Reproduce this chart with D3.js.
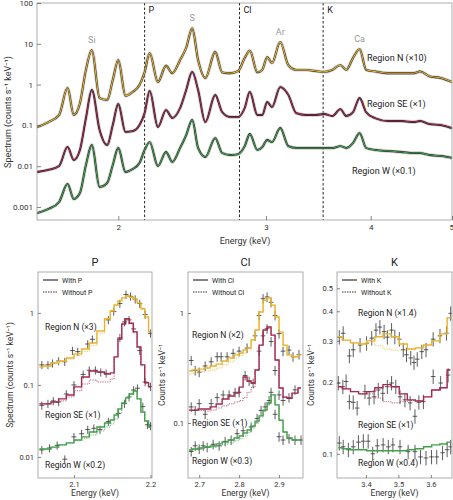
<!DOCTYPE html>
<html>
<head>
<meta charset="utf-8">
<script src="https://cdn.jsdelivr.net/npm/d3@7"></script>
<style>
body { margin: 0; background: #fff; }
svg { font-family: Roboto, "Noto Sans", sans-serif; }
</style>
</head>
<body>
<svg id="chart" width="453" height="500"></svg>
<script>
// ---------- top panel: broad-band spectra ----------
var energy = [1.60,1.65,1.70,1.74,1.77,1.80,1.83,1.86,1.90,1.94,1.97,2.00,2.04,2.08,2.12,2.15,2.18,2.23,2.28,2.32,2.37,2.41,2.45,2.49,2.54,2.61,2.66,2.72,2.78,2.83,2.87,2.93,2.97,3.01,3.05,3.12,3.19,3.26,3.35,3.44,3.52,3.60,3.68,3.74,3.81,3.88,3.95,4.05,4.20,4.35,4.50,4.58,4.70,4.85,5.00];
var specN = [0.091,0.12,0.18,0.83,0.18,0.35,2.3,7.0,0.47,0.42,1.3,4.0,0.53,0.66,0.98,2.0,5.9,1.16,2.9,1.9,4.0,8.0,24,4.0,1.45,6.3,2.0,1.9,2.15,4.5,6.8,2.0,2.3,4.7,3.4,11,3.0,2.3,2.3,2.15,2.05,2.3,3.0,2.3,4.5,7.4,2.3,2.1,1.9,1.9,1.9,2.1,1.6,1.45,1.16];
var specSE = [0.0072,0.0081,0.0101,0.0296,0.0142,0.025,0.15,0.74,0.077,0.033,0.102,0.335,0.069,0.072,0.102,0.20,0.70,0.091,0.238,0.152,0.267,0.74,2.04,0.74,0.121,0.556,0.213,0.161,0.161,0.267,0.66,0.18,0.18,0.375,0.282,0.87,0.56,0.20,0.18,0.18,0.19,0.17,0.25,0.17,0.21,0.47,0.21,0.15,0.128,0.128,0.121,0.128,0.108,0.102,0.086];
var specW = [0.00071,0.00089,0.00133,0.00367,0.00157,0.0022,0.0107,0.0331,0.00309,0.00388,0.0107,0.0279,0.0072,0.0085,0.012,0.025,0.039,0.0101,0.0223,0.0127,0.028,0.058,0.136,0.028,0.0168,0.049,0.021,0.0188,0.0198,0.031,0.0616,0.025,0.0295,0.0439,0.039,0.0864,0.031,0.028,0.028,0.028,0.028,0.028,0.031,0.028,0.037,0.065,0.028,0.025,0.0235,0.0223,0.021,0.021,0.0188,0.0178,0.0159];
var topXTicks = [2, 3, 4, 5];
var topYTicks = [100, 10, 1, 0.1, 0.01, 0.001];
var edgeE = [2.15, 2.79, 3.51];
var edgeNames = ["P", "Cl", "K"];
var lineE = [1.86, 2.45, 3.12, 3.88];
var lineNames = ["Si", "S", "Ar", "Ca"];
var topRegionNames = ["Region N (×10)", "Region SE (×1)", "Region W (×0.1)"];

// ---------- P panel ----------
var pEnergy = [2.055,2.065,2.075,2.085,2.095,2.105,2.115,2.125,2.135,2.145,2.150,2.155,2.160,2.165,2.170,2.175,2.180,2.185,2.190,2.195,2.200];
var pModelN = [0.178,0.183,0.202,0.215,0.237,0.27,0.316,0.383,0.56,0.83,1.07,1.29,1.47,1.62,1.72,1.65,1.56,1.38,1.14,0.88,0.545];
var pNoLineN = [0.178,0.183,0.202,0.212,0.228,0.255,0.29,0.35,0.52,0.80,1.05,1.29,1.47,1.62,1.72,1.65,1.56,1.38,1.14,0.88,0.545];
var pModelSE = [0.0545,0.0545,0.058,0.064,0.0726,0.094,0.129,0.156,0.151,0.142,0.147,0.245,0.435,0.70,0.83,0.72,0.545,0.337,0.19,0.107,0.094];
var pNoLineSE = [0.0545,0.0545,0.058,0.060,0.068,0.083,0.103,0.117,0.11,0.11,0.121,0.245,0.435,0.70,0.83,0.72,0.545,0.337,0.19,0.107,0.094];
var pModelW = [0.0129,0.0129,0.0137,0.0147,0.0157,0.0172,0.019,0.0222,0.0261,0.0296,0.0326,0.0383,0.0464,0.0562,0.066,0.075,0.0825,0.064,0.042,0.0316,0.0261];
var pNoLineW = [0.0129,0.0129,0.0137,0.0147,0.0155,0.0168,0.0182,0.0202,0.023,0.026,0.0288,0.0337,0.041,0.0562,0.066,0.075,0.0825,0.064,0.042,0.0316,0.0261];
var pObsEN = [2.058,2.066,2.072,2.080,2.088,2.098,2.105,2.118,2.124,2.145,2.152,2.160,2.168,2.174,2.180,2.186,2.193,2.200];
var pObsN = [0.19,0.19,0.20,0.215,0.21,0.30,0.29,0.37,0.43,0.80,1.05,1.35,1.8,1.7,1.55,1.35,0.95,0.52];
var pObsESE = [2.058,2.066,2.073,2.080,2.090,2.100,2.112,2.120,2.128,2.135,2.142,2.160,2.166,2.172,2.178,2.186,2.193,2.200];
var pObsSE = [0.052,0.055,0.060,0.058,0.075,0.10,0.14,0.16,0.16,0.15,0.145,0.45,0.75,0.80,0.6,0.30,0.11,0.095];
var pObsEW = [2.058,2.068,2.078,2.088,2.100,2.110,2.118,2.126,2.134,2.145,2.158,2.166,2.172,2.178,2.183,2.190,2.196,2.200];
var pObsW = [0.0125,0.0133,0.0145,0.0093,0.019,0.021,0.024,0.025,0.024,0.031,0.040,0.055,0.068,0.085,0.090,0.050,0.028,0.027];

// ---------- Cl panel ----------
var clEnergy = [2.675,2.69,2.705,2.72,2.735,2.75,2.765,2.78,2.795,2.805,2.815,2.825,2.835,2.845,2.855,2.865,2.875,2.885,2.895,2.905,2.915,2.925,2.94,2.955];
var clModelN = [0.297,0.303,0.309,0.316,0.33,0.343,0.366,0.39,0.416,0.433,0.461,0.48,0.568,0.70,1.02,1.31,1.37,1.18,0.92,0.67,0.51,0.416,0.40,0.416];
var clNoLineN = [0.279,0.285,0.291,0.297,0.303,0.316,0.337,0.359,0.39,0.407,0.433,0.461,0.568,0.70,1.02,1.31,1.37,1.18,0.92,0.67,0.51,0.416,0.40,0.416];
var clModelSE = [0.131,0.131,0.134,0.134,0.14,0.149,0.165,0.176,0.187,0.212,0.262,0.241,0.231,0.303,0.51,0.70,0.746,0.63,0.374,0.208,0.172,0.168,0.187,0.208];
var clNoLineSE = [0.131,0.131,0.130,0.128,0.131,0.137,0.143,0.149,0.155,0.16,0.17,0.19,0.21,0.303,0.51,0.70,0.746,0.63,0.374,0.208,0.172,0.168,0.187,0.208];
var clModelW = [0.0568,0.058,0.0593,0.0605,0.0618,0.0645,0.0672,0.07,0.073,0.0762,0.081,0.0864,0.094,0.104,0.116,0.131,0.152,0.18,0.146,0.106,0.0828,0.073,0.07,0.07];
var clNoLineW = [0.0568,0.058,0.0593,0.060,0.060,0.062,0.064,0.066,0.069,0.072,0.076,0.082,0.090,0.100,0.113,0.131,0.152,0.18,0.146,0.106,0.0828,0.073,0.07,0.07];
var clObsEN = [2.68,2.69,2.70,2.715,2.73,2.745,2.755,2.77,2.785,2.80,2.82,2.84,2.85,2.86,2.87,2.88,2.89,2.90,2.91,2.925,2.935,2.95];
var clObsN = [0.37,0.30,0.29,0.33,0.36,0.40,0.40,0.40,0.43,0.45,0.48,0.62,0.95,1.35,1.40,1.25,0.95,0.65,0.45,0.46,0.40,0.42];
var clObsESE = [2.68,2.69,2.70,2.715,2.73,2.745,2.76,2.775,2.79,2.80,2.815,2.825,2.835,2.85,2.86,2.87,2.88,2.89,2.90,2.91,2.925,2.94];
var clObsSE = [0.14,0.13,0.15,0.12,0.15,0.17,0.18,0.18,0.19,0.19,0.27,0.24,0.23,0.45,0.62,0.72,0.55,0.30,0.18,0.16,0.17,0.20];
var clObsEW = [2.68,2.69,2.70,2.71,2.72,2.735,2.75,2.765,2.78,2.795,2.81,2.83,2.845,2.855,2.865,2.875,2.88,2.89,2.90,2.91,2.925,2.94,2.955];
var clObsW = [0.055,0.062,0.058,0.062,0.060,0.064,0.062,0.068,0.070,0.080,0.085,0.092,0.11,0.13,0.14,0.16,0.19,0.12,0.075,0.07,0.072,0.070,0.070];

// ---------- K panel ----------
var kEnergy = [3.315,3.34,3.365,3.39,3.415,3.44,3.465,3.49,3.515,3.54,3.565,3.59,3.615,3.64,3.66];
var kModelN = [0.312,0.302,0.294,0.291,0.300,0.312,0.321,0.312,0.291,0.277,0.280,0.288,0.300,0.321,0.375];
var kNoLineN = [0.312,0.302,0.294,0.291,0.294,0.286,0.277,0.274,0.274,0.277,0.280,0.288,0.300,0.321,0.375];
var kModelSE = [0.192,0.188,0.183,0.179,0.183,0.190,0.196,0.192,0.179,0.169,0.167,0.174,0.186,0.190,0.226];
var kNoLineSE = [0.192,0.188,0.183,0.179,0.179,0.172,0.166,0.164,0.166,0.168,0.167,0.174,0.186,0.190,0.226];
var kModelW = [0.106,0.105,0.104,0.104,0.103,0.103,0.103,0.103,0.103,0.104,0.105,0.107,0.109,0.110,0.112];
var kObsEN = [3.318,3.330,3.349,3.361,3.382,3.402,3.418,3.431,3.443,3.456,3.466,3.479,3.489,3.503,3.515,3.525,3.538,3.548,3.558,3.572,3.585,3.607,3.628,3.648,3.661];
var kObsN = [0.311,0.323,0.259,0.275,0.288,0.293,0.308,0.333,0.343,0.328,0.311,0.333,0.312,0.305,0.275,0.262,0.254,0.243,0.251,0.270,0.275,0.305,0.315,0.323,0.392];
var kObsESE = [3.315,3.329,3.339,3.349,3.361,3.373,3.397,3.410,3.425,3.438,3.452,3.466,3.479,3.492,3.505,3.520,3.536,3.551,3.563,3.577,3.607,3.630,3.653];
var kObsSE = [0.199,0.192,0.202,0.166,0.165,0.156,0.183,0.172,0.174,0.186,0.180,0.192,0.199,0.192,0.174,0.169,0.164,0.144,0.165,0.166,0.212,0.199,0.215];
var kObsEW = [3.318,3.330,3.346,3.361,3.377,3.392,3.407,3.421,3.435,3.453,3.469,3.483,3.505,3.530,3.551,3.568,3.585,3.602,3.618,3.636,3.650,3.661];
var kObsW = [0.111,0.107,0.104,0.107,0.112,0.113,0.113,0.100,0.108,0.109,0.107,0.109,0.107,0.102,0.102,0.097,0.096,0.097,0.097,0.101,0.104,0.107];

var colN = "#e8b430", colSE = "#a52a50", colW = "#43a04b";
var frameCol = "#9a9a9a", textCol = "#333";

var svg = d3.select("#chart");
var defs = svg.append("defs");

function styleAxis(g, size) {
    g.select(".domain").remove();
    g.selectAll(".tick line").attr("stroke", "#555").attr("stroke-width", 0.7);
    g.selectAll(".tick text").attr("fill", textCol).attr("font-size", size).attr("font-family", "Roboto, sans-serif");
}

// ===== top panel =====
var tx0 = 37, tx1 = 452, ty0 = 3, ty1 = 220;
var xTop = d3.scaleLog().domain([1.6, 5]).range([tx0, tx1]);
var yTop = d3.scaleLog().domain([0.00048, 100]).range([ty1, ty0]);

defs.append("clipPath").attr("id", "clipTop").append("rect")
    .attr("x", tx0).attr("y", ty0).attr("width", tx1 - tx0).attr("height", ty1 - ty0);

var topG = svg.append("g");
var topPlot = topG.append("g").attr("clip-path", "url(#clipTop)");

// dashed edge markers
edgeE.forEach(function(e, i) {
    topPlot.append("line")
        .attr("x1", xTop(e)).attr("x2", xTop(e)).attr("y1", ty0).attr("y2", ty1)
        .attr("stroke", "#222").attr("stroke-width", 1).attr("stroke-dasharray", "2.5,2");
    topG.append("text").attr("x", xTop(e) + 4).attr("y", ty0 + 10)
        .attr("font-size", 9).attr("fill", "#222").text(edgeNames[i]);
});

var topLine = d3.line()
    .x(function(d, i) { return xTop(energy[i]); })
    .y(function(d) { return yTop(d); })
    .curve(d3.curveMonotoneX);

[[specN, colN], [specSE, colSE], [specW, colW]].forEach(function(s) {
    topPlot.append("path").attr("d", topLine(s[0])).attr("fill", "none")
        .attr("stroke", "#9a9a9a").attr("stroke-width", 3.4).attr("stroke-opacity", 0.55);
    topPlot.append("path").attr("d", topLine(s[0])).attr("fill", "none")
        .attr("stroke", "#151515").attr("stroke-width", 1.8);
    topPlot.append("path").attr("d", topLine(s[0])).attr("fill", "none")
        .attr("stroke", s[1]).attr("stroke-width", 1.1);
});

// line labels above the N peaks
lineE.forEach(function(e, i) {
    var k = d3.minIndex(energy, function(v) { return Math.abs(v - e); });
    topG.append("text").attr("x", xTop(e)).attr("y", yTop(specN[k]) - 7)
        .attr("text-anchor", "middle").attr("font-size", 9).attr("fill", "#9a9a9a")
        .text(lineNames[i]);
});

topG.append("rect").attr("x", tx0).attr("y", ty0).attr("width", tx1 - tx0).attr("height", ty1 - ty0)
    .attr("fill", "none").attr("stroke", frameCol).attr("stroke-width", 0.8);

var topXAxis = topG.append("g").attr("transform", "translate(0," + ty1 + ")")
    .call(d3.axisBottom(xTop).tickValues(topXTicks).tickFormat(d3.format("d"))
        .tickSizeInner(-4).tickSizeOuter(0).tickPadding(4))
    .call(styleAxis, 8);
// keep the last label inside the page
topXAxis.selectAll(".tick text").filter(function(d) { return d === 5; })
    .attr("text-anchor", "end").attr("dx", 1.5);
topG.append("g").attr("transform", "translate(" + tx0 + ",0)")
    .call(d3.axisLeft(yTop).tickValues(topYTicks).tickFormat(d3.format("~g"))
        .tickSizeInner(-4).tickSizeOuter(0).tickPadding(4))
    .call(styleAxis, 8);

topG.append("text").attr("x", 245).attr("y", 244).attr("text-anchor", "middle")
    .attr("font-size", 9).attr("fill", textCol).text("Energy (keV)");
topG.append("text").attr("transform", "translate(11,112) rotate(-90)").attr("text-anchor", "middle")
    .attr("font-size", 9).attr("fill", textCol).text("Spectrum (counts s⁻¹ keV⁻¹)");

var topLabelPos = [[367, 61], [367, 107], [352, 174]];
topRegionNames.forEach(function(t, i) {
    topG.append("text").attr("x", topLabelPos[i][0]).attr("y", topLabelPos[i][1])
        .attr("font-size", 9).attr("fill", "#222").text(t);
});

// ===== zoomed panels =====
function drawPanel(p) {
    var g = svg.append("g");
    var x = d3.scaleLinear().domain(p.xDom).range([p.x0, p.x1]);
    var y = d3.scaleLog().domain(p.yDom).range([p.y1, p.y0]);
    var id = "clip" + p.name;
    defs.append("clipPath").attr("id", id).append("rect")
        .attr("x", p.x0).attr("y", p.y0).attr("width", p.x1 - p.x0).attr("height", p.y1 - p.y0);
    var plot = g.append("g").attr("clip-path", "url(#" + id + ")");

    var line = d3.line()
        .x(function(d, i) { return x(p.energy[i]); })
        .y(function(d) { return y(d); })
        .curve(d3.curveStep);

    p.series.forEach(function(s) {
        // data crosses
        s.obsE.forEach(function(e, i) {
            var v = s.obs[i];
            plot.append("line").attr("x1", x(e)).attr("x2", x(e))
                .attr("y1", y(v * (1 - p.err))).attr("y2", y(v * (1 + p.err)))
                .attr("stroke", "#333").attr("stroke-width", 0.8);
            plot.append("line").attr("x1", x(e - p.dx)).attr("x2", x(e + p.dx))
                .attr("y1", y(v)).attr("y2", y(v))
                .attr("stroke", "#333").attr("stroke-width", 0.8);
        });
        if (s.noLine) {
            plot.append("path").attr("d", line(s.noLine)).attr("fill", "none")
                .attr("stroke", s.col).attr("stroke-width", 1).attr("stroke-opacity", 0.75)
                .attr("stroke-dasharray", "1.2,1.2");
        }
        plot.append("path").attr("d", line(s.model)).attr("fill", "none")
            .attr("stroke", s.col).attr("stroke-width", 1.4);
    });

    g.append("rect").attr("x", p.x0).attr("y", p.y0).attr("width", p.x1 - p.x0).attr("height", p.y1 - p.y0)
        .attr("fill", "none").attr("stroke", frameCol).attr("stroke-width", 0.8);

    g.append("g").attr("transform", "translate(0," + p.y1 + ")")
        .call(d3.axisBottom(x).tickValues(p.xTicks).tickFormat(d3.format(".1f"))
            .tickSizeInner(-3).tickSizeOuter(0).tickPadding(4))
        .call(styleAxis, 7.5);
    g.append("g").attr("transform", "translate(" + p.x0 + ",0)")
        .call(d3.axisLeft(y).tickValues(p.yTicks).tickFormat(d3.format("~g"))
            .tickSizeInner(-3).tickSizeOuter(0).tickPadding(4))
        .call(styleAxis, 7.5);

    var cx = (p.x0 + p.x1) / 2;
    g.append("text").attr("x", cx).attr("y", p.y0 - 6).attr("text-anchor", "middle")
        .attr("font-size", 11).attr("fill", "#222").text(p.name);
    g.append("text").attr("x", cx).attr("y", 496).attr("text-anchor", "middle")
        .attr("font-size", 8.5).attr("fill", textCol).text("Energy (keV)");
    g.append("text").attr("transform", "translate(" + p.yTitleX + "," + ((p.y0 + p.y1) / 2) + ") rotate(-90)")
        .attr("text-anchor", "middle").attr("font-size", 8.5).attr("fill", textCol).text(p.yTitle);

    // legend
    var lx = p.x0 + 5;
    g.append("line").attr("x1", lx).attr("x2", lx + 15).attr("y1", p.y0 + 8).attr("y2", p.y0 + 8)
        .attr("stroke", "#3a3035").attr("stroke-width", 1.2);
    g.append("line").attr("x1", lx).attr("x2", lx + 15).attr("y1", p.y0 + 20).attr("y2", p.y0 + 20)
        .attr("stroke", "#3a3035").attr("stroke-width", 1).attr("stroke-dasharray", "1.5,1");
    g.append("text").attr("x", lx + 19).attr("y", p.y0 + 10.5).attr("font-size", 7)
        .attr("fill", "#222").text("With " + p.name);
    g.append("text").attr("x", lx + 19).attr("y", p.y0 + 22.5).attr("font-size", 7)
        .attr("fill", "#222").text("Without " + p.name);

    p.labels.forEach(function(l) {
        g.append("text").attr("x", l[1]).attr("y", l[2]).attr("font-size", 8.5)
            .attr("fill", "#222").text(l[0]);
    });
}

drawPanel({
    name: "P", x0: 38, x1: 152, y0: 272, y1: 478,
    xDom: [2.053, 2.202], yDom: [0.0051, 3.7],
    xTicks: [2.1, 2.2], yTicks: [1, 0.1, 0.01],
    energy: pEnergy, err: 0.13, dx: 0.0033,
    yTitle: "Spectrum (counts s⁻¹ keV⁻¹)", yTitleX: 13,
    series: [
        { model: pModelN, noLine: pNoLineN, obsE: pObsEN, obs: pObsN, col: colN },
        { model: pModelSE, noLine: pNoLineSE, obsE: pObsESE, obs: pObsSE, col: colSE },
        { model: pModelW, noLine: pNoLineW, obsE: pObsEW, obs: pObsW, col: colW }
    ],
    labels: [["Region N (×3)", 45, 330], ["Region SE (×1)", 45, 418], ["Region W (×0.2)", 45, 468]]
});

drawPanel({
    name: "Cl", x0: 188, x1: 303, y0: 272, y1: 478,
    xDom: [2.672, 2.96], yDom: [0.0316, 2.36],
    xTicks: [2.7, 2.8, 2.9], yTicks: [1, 0.1],
    energy: clEnergy, err: 0.10, dx: 0.006,
    yTitle: "Counts s⁻¹ keV⁻¹", yTitleX: 165,
    series: [
        { model: clModelN, noLine: clNoLineN, obsE: clObsEN, obs: clObsN, col: colN },
        { model: clModelSE, noLine: clNoLineSE, obsE: clObsESE, obs: clObsSE, col: colSE },
        { model: clModelW, noLine: clNoLineW, obsE: clObsEW, obs: clObsW, col: colW }
    ],
    labels: [["Region N (×2)", 192, 338], ["Region SE (×1)", 192, 426], ["Region W (×0.3)", 192, 464]]
});

drawPanel({
    name: "K", x0: 337, x1: 452, y0: 272, y1: 478,
    xDom: [3.311, 3.665], yDom: [0.079, 0.586],
    xTicks: [3.4, 3.5, 3.6], yTicks: [0.5, 0.4, 0.3, 0.2, 0.1],
    energy: kEnergy, err: 0.07, dx: 0.007,
    yTitle: "Counts s⁻¹ keV⁻¹", yTitleX: 314,
    series: [
        { model: kModelN, noLine: kNoLineN, obsE: kObsEN, obs: kObsN, col: colN },
        { model: kModelSE, noLine: kNoLineSE, obsE: kObsESE, obs: kObsSE, col: colSE },
        { model: kModelW, noLine: null, obsE: kObsEW, obs: kObsW, col: colW }
    ],
    labels: [["Region N (×1.4)", 358, 316], ["Region SE (×1)", 358, 428], ["Region W (×0.4)", 358, 466]]
});
</script>
</body>
</html>
